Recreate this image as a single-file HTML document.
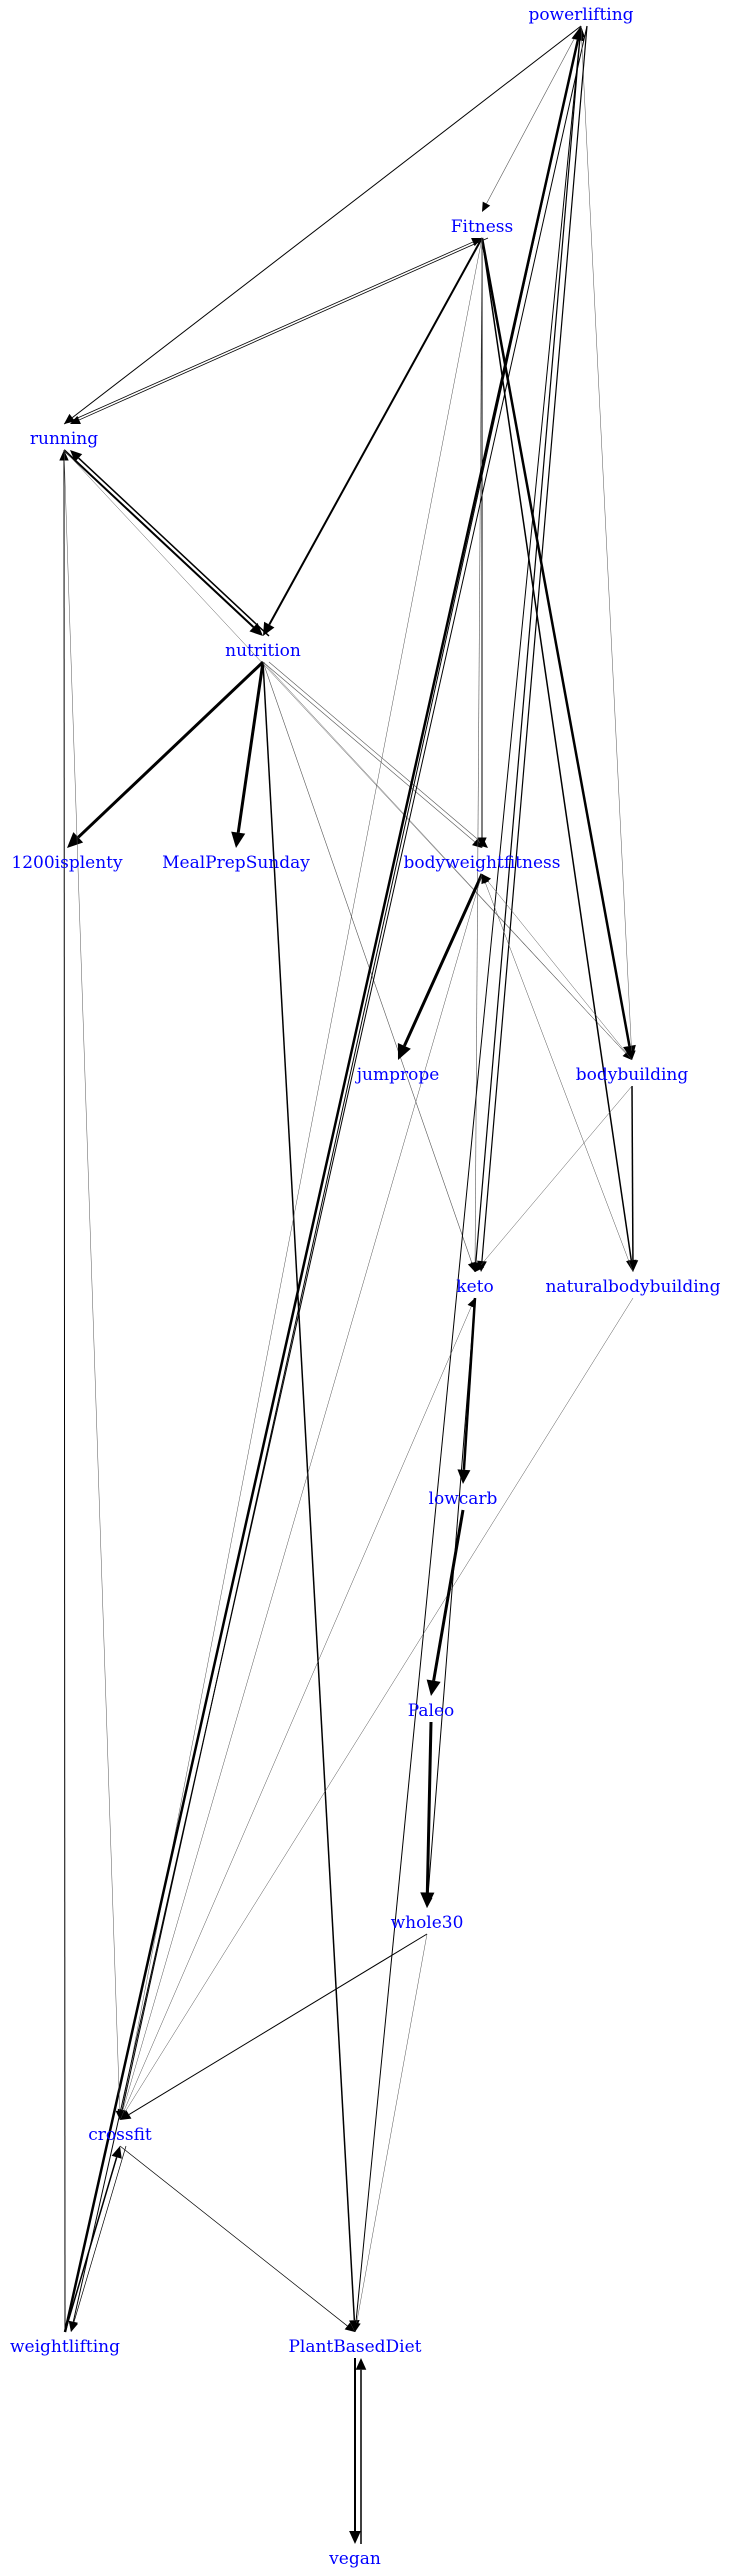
<!DOCTYPE html>
<html><head><meta charset="utf-8"><style>
html,body{margin:0;padding:0;background:#fff}
svg{display:block}
text{font-family:"DejaVu Serif","Liberation Serif",serif;font-size:17px;fill:#0000ff;text-anchor:middle}
</style></head><body>
<svg id="g" width="735" height="2575" viewBox="0 0 735 2575">
<rect width="735" height="2575" fill="#fff"/>
<g id="edges"></g>
<g id="nodes"></g>
</svg>
<script>
const nodeNames=["powerlifting","Fitness","running","nutrition","1200isplenty","MealPrepSunday","bodyweightfitness","jumprope","bodybuilding","keto","naturalbodybuilding","lowcarb","Paleo","whole30","crossfit","weightlifting","PlantBasedDiet","vegan"];
const nodeRank=[0,1,2,3,4,4,4,5,5,6,6,7,8,9,10,11,11,12];
const nodeX=[581,482,64,263,67,236,482,398,632,475,633,463,431,427,120,65,355,355];
const edgeFrom=["powerlifting","powerlifting","running","Fitness","Fitness","running","nutrition","running","nutrition","nutrition","nutrition","nutrition","nutrition","nutrition","nutrition","Fitness","Fitness","Fitness","Fitness","Fitness","weightlifting","powerlifting","powerlifting","keto","PlantBasedDiet","powerlifting","powerlifting","bodyweightfitness","bodyweightfitness","bodybuilding","bodybuilding","bodybuilding","naturalbodybuilding","naturalbodybuilding","keto","lowcarb","Paleo","keto","whole30","whole30","crossfit","crossfit","weightlifting","running","weightlifting","PlantBasedDiet","vegan","crossfit"];
const edgeTo=["running","Fitness","Fitness","running","nutrition","nutrition","running","bodybuilding","1200isplenty","MealPrepSunday","PlantBasedDiet","keto","bodyweightfitness","bodyweightfitness","bodybuilding","bodyweightfitness","bodybuilding","naturalbodybuilding","keto","crossfit","powerlifting","crossfit","weightlifting","powerlifting","powerlifting","bodybuilding","keto","jumprope","crossfit","naturalbodybuilding","keto","bodyweightfitness","bodyweightfitness","crossfit","lowcarb","Paleo","whole30","whole30","crossfit","PlantBasedDiet","keto","PlantBasedDiet","running","crossfit","crossfit","vegan","PlantBasedDiet","weightlifting"];
const edgeWeight=[1,0.6,0.8,0.8,2,2,1.5,0.5,3,3,1.5,0.6,0.6,0.6,0.5,1,2.5,1.5,0.6,0.5,2.5,1,1,1.2,1,0.5,1.2,3,0.5,1.5,0.5,0.5,0.5,0.5,2.5,3,3,1,1,0.5,0.5,0.7,1,0.5,1.5,2,1.5,0.7];

const NS="http://www.w3.org/2000/svg";
const rankY=r=>14+r*212;
const idx=n=>nodeNames.indexOf(n);
const eg=document.getElementById('edges'), ng=document.getElementById('nodes');
const offs={};
edgeFrom.forEach((f,i)=>{
  const a=idx(f), b=idx(edgeTo[i]);
  const key=[Math.min(a,b),Math.max(a,b)].join('-');
  offs[key]=(offs[key]||0)+1;
  const k=offs[key]-1;
  const shift=k*6;
  let x1=nodeX[a]+shift, x2=nodeX[b]+shift;
  let y1=rankY(nodeRank[a]), y2=rankY(nodeRank[b]);
  const down=y2>y1;
  y1+=down?12:-14; y2+=down?-14:12;
  const w=edgeWeight[i];
  const dx=x2-x1, dy=y2-y1, L=Math.hypot(dx,dy), ux=dx/L, uy=dy/L;
  const al=8+2.5*w, aw=3.5+1.2*w;
  const bx=x2-ux*al, by=y2-uy*al;
  const line=document.createElementNS(NS,'line');
  line.setAttribute('x1',x1);line.setAttribute('y1',y1);line.setAttribute('x2',bx);line.setAttribute('y2',by);
  line.setAttribute('stroke',w<0.7?'#555':'#000');line.setAttribute('stroke-width',w);
  
  
  eg.appendChild(line);
  const p=document.createElementNS(NS,'polygon');
  p.setAttribute('points',`${x2},${y2} ${bx-uy*aw},${by+ux*aw} ${bx+uy*aw},${by-ux*aw}`);
  p.setAttribute('fill','#000');
  
  
  eg.appendChild(p);
});
nodeNames.forEach((n,i)=>{
  const t=document.createElementNS(NS,'text');
  t.setAttribute('x',nodeX[i]);t.setAttribute('y',rankY(nodeRank[i])+6);
  t.textContent=n;
  
  
  ng.appendChild(t);
});
</script>
</body></html>
